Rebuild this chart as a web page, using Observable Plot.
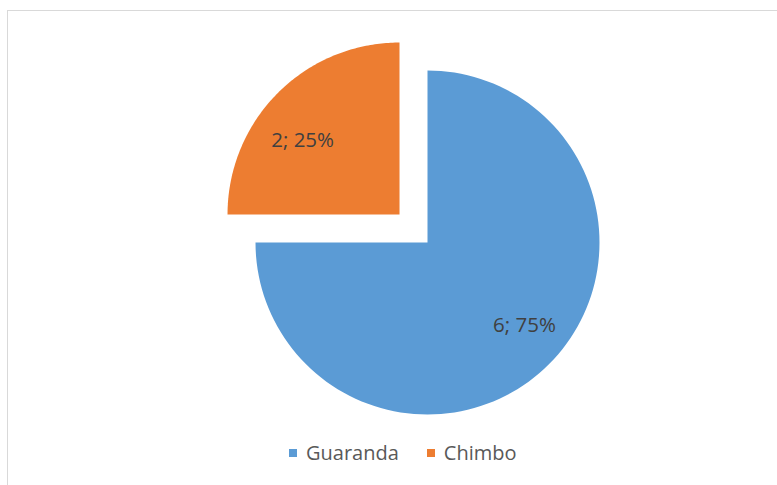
<!DOCTYPE html>
<html>
<head>
<meta charset="utf-8">
<script src="https://cdn.jsdelivr.net/npm/d3@7"></script>
<script src="https://cdn.jsdelivr.net/npm/@observablehq/plot@0.6"></script>
<style>
  html, body { margin: 0; padding: 0; background: #fff; overflow: hidden; }
  #wrap { position: relative; width: 777px; height: 485px; overflow: hidden; }
  #frame { position: absolute; left: 7px; top: 10px; width: 800px; height: 500px; border: 1.5px solid #d9d9d9; box-sizing: border-box; }
  #chart { position: absolute; left: 0; top: 0; }
  #legend { position: absolute; left: 289px; top: 439px; display: flex; align-items: center; font-family: "Open Sans", sans-serif; font-size: 20px; color: #595959; white-space: nowrap; }
  .item { display: flex; align-items: center; margin-right: 28px; }
  .sw { width: 8px; height: 8px; margin-right: 9px; }
</style>
</head>
<body>
<div id="wrap">
  <div id="frame"></div>
  <div id="chart"></div>
  <div id="legend"></div>
</div>
<script>
const categories = ["Guaranda", "Chimbo"];
const values = [6, 2];
const colors = ["#5B9BD5", "#ED7D31"];
const explodedCategory = "Chimbo";

const total = d3.sum(values);
const arcs = d3.pie().sort(null).value(d => d)(values);

const explodeDist = 0.23;
const labelRadius = 0.725;
const labelTurn = -6 * Math.PI / 180;
const polys = [];
const labels = [];
arcs.forEach((a, i) => {
  const name = categories[i];
  const mid = (a.startAngle + a.endAngle) / 2;
  const off = name === explodedCategory ? explodeDist : 0;
  const ox = off * Math.sin(mid), oy = off * Math.cos(mid);
  polys.push({name, x: ox, y: oy});
  const steps = 120;
  for (let k = 0; k <= steps; k++) {
    const t = a.startAngle + (a.endAngle - a.startAngle) * k / steps;
    polys.push({name, x: ox + Math.sin(t), y: oy + Math.cos(t)});
  }
  polys.push({name, x: ox, y: oy});
  const la = mid + labelTurn;
  labels.push({
    name,
    x: ox + labelRadius * Math.sin(la),
    y: oy + labelRadius * Math.cos(la),
    text: `${values[i]}; ${Math.round(values[i] / total * 100)}%`
  });
});

const cx = 427, cy = 242, r = 172;
const chart = Plot.plot({
  width: 777,
  height: 485,
  margin: 0,
  x: {domain: [-1, 1], range: [cx - r, cx + r], axis: null},
  y: {domain: [-1, 1], range: [cy + r, cy - r], axis: null},
  color: {domain: categories, range: colors},
  style: {background: "transparent"},
  marks: [
    Plot.line(polys, {x: "x", y: "y", z: "name", fill: "name", stroke: null, curve: "linear"}),
    Plot.text(labels, {x: "x", y: "y", dy: 4, text: "text", fill: "#404040", fontSize: 20.5, fontFamily: "Open Sans, sans-serif"})
  ]
});
document.getElementById("chart").appendChild(chart);

const legend = document.getElementById("legend");
categories.forEach((c, i) => {
  const item = document.createElement("div");
  item.className = "item";
  const sw = document.createElement("div");
  sw.className = "sw";
  sw.style.background = colors[i];
  const t = document.createElement("span");
  t.textContent = c;
  item.appendChild(sw);
  item.appendChild(t);
  legend.appendChild(item);
});
</script>
</body>
</html>
